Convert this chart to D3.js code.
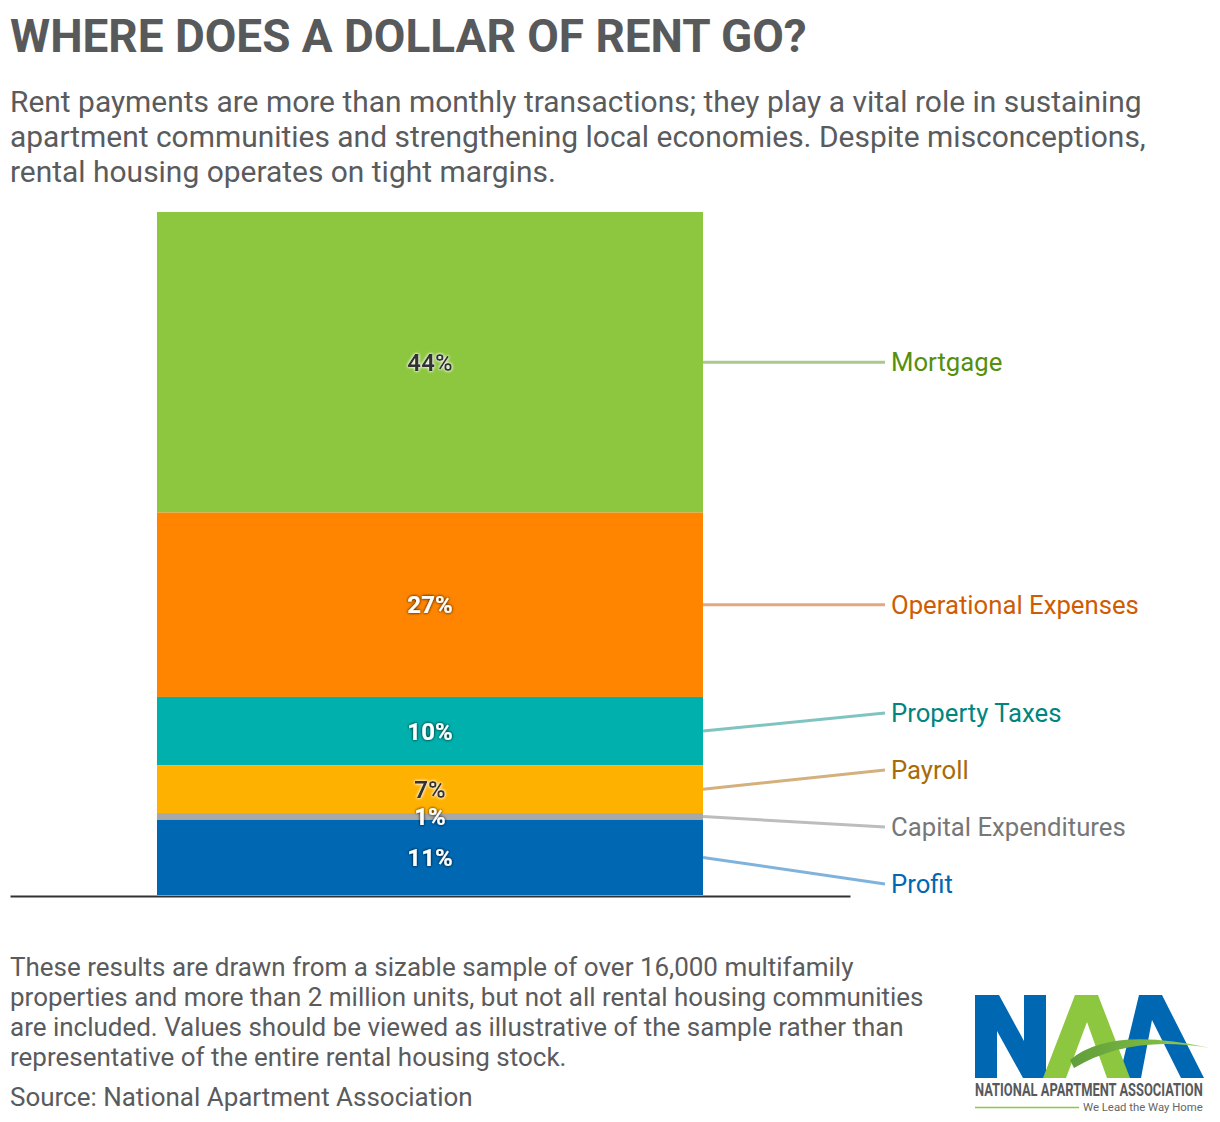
<!DOCTYPE html>
<html>
<head>
<meta charset="utf-8">
<script src="https://cdn.jsdelivr.net/npm/d3@7/dist/d3.min.js"></script>
<style>
  html, body { margin: 0; padding: 0; background: #fff; }
  svg { display: block; font-family: Roboto, "Noto Sans", sans-serif; }
</style>
</head>
<body>
<svg id="chart" width="1220" height="1122"></svg>
<script>
// ---------- data ----------
const categories = ["Mortgage", "Operational Expenses", "Property Taxes", "Payroll", "Capital Expenditures", "Profit"];
const values = [44, 27, 10, 7, 1, 11];
const valueLabels = ["44%", "27%", "10%", "7%", "1%", "11%"];
const titleText = "WHERE DOES A DOLLAR OF RENT GO?";
const subtitleLines = [
  "Rent payments are more than monthly transactions; they play a vital role in sustaining",
  "apartment communities and strengthening local economies. Despite misconceptions,",
  "rental housing operates on tight margins."
];
const noteLines = [
  "These results are drawn from a sizable sample of over 16,000 multifamily",
  "properties and more than 2 million units, but not all rental housing communities",
  "are included. Values should be viewed as illustrative of the sample rather than",
  "representative of the entire rental housing stock."
];
const sourceText = "Source: National Apartment Association";

// ---------- styles ----------
const barColors   = ["#8dc63f", "#ff8500", "#00b0ad", "#ffb100", "#a8a8a8", "#0068b3"];
const labelColors = ["#558f0c", "#cf5c00", "#00857f", "#a86b08", "#777777", "#0068b3"];
const lineColors  = ["#aac98d", "#e3a882", "#80c4c1", "#d3b07c", "#bdbdbd", "#80b3dc"];
const darkValue   = [true, false, false, true, false, false];

const svg = d3.select("#chart");

function fitText(sel, targetWidth) {
  const fs = parseFloat(sel.attr("font-size"));
  const w = sel.node().getComputedTextLength();
  const nfs = fs * targetWidth / w;
  sel.attr("font-size", nfs);
  return nfs;
}
// squeeze text horizontally into a given width using a transform
function squeeze(sel, x0, y0, targetWidth) {
  const w = sel.node().getComputedTextLength();
  sel.attr("x", 0).attr("y", 0)
     .attr("transform", `translate(${x0},${y0}) scale(${targetWidth / w},1)`);
}

// ---------- filters (halo for value labels) ----------
const defs = svg.append("defs");
function glow(id, color, opacity) {
  const f = defs.append("filter").attr("id", id).attr("x", "-30%").attr("y", "-50%").attr("width", "160%").attr("height", "200%");
  f.append("feGaussianBlur").attr("in", "SourceAlpha").attr("stdDeviation", 1.8).attr("result", "b");
  f.append("feFlood").attr("flood-color", color).attr("flood-opacity", opacity).attr("result", "c");
  f.append("feComposite").attr("in", "c").attr("in2", "b").attr("operator", "in").attr("result", "g");
  const m = f.append("feMerge");
  m.append("feMergeNode").attr("in", "g");
  m.append("feMergeNode").attr("in", "g");
  m.append("feMergeNode").attr("in", "SourceGraphic");
}
glow("haloLight", "#ffffff", 0.9);
glow("haloDark", "#000000", 0.55);

const swGrad = defs.append("linearGradient").attr("id", "swoosh").attr("x1", "0").attr("x2", "1").attr("y1", "0").attr("y2", "0");
swGrad.append("stop").attr("offset", "0").attr("stop-color", "#5f9e3a");
swGrad.append("stop").attr("offset", "0.6").attr("stop-color", "#7cb842");
swGrad.append("stop").attr("offset", "1").attr("stop-color", "#a5d36a");

// ---------- title / subtitle ----------
const title = svg.append("text").attr("x", 10).attr("y", 52)
  .attr("font-size", 42).attr("font-weight", 700).attr("fill", "#58595b")
  .text(titleText);
fitText(title, 797);

const sub = svg.append("g").attr("fill", "#5a5b5d");
const sub0 = sub.append("text").attr("x", 10).attr("y", 112).attr("font-size", 26).text(subtitleLines[0]);
const subFs = fitText(sub0, 1132);
subtitleLines.slice(1).forEach((t, i) => {
  sub.append("text").attr("x", 10).attr("y", 112 + (i + 1) * 35).attr("font-size", subFs).text(t);
});

// ---------- chart ----------
const x = d3.scaleBand().domain(["Rent"]).range([10, 850]).paddingInner(0).paddingOuter(0.2692);
const y = d3.scaleLinear().domain([0, 100]).range([895, 212]);
const color = d3.scaleOrdinal().domain(categories).range(barColors);

const row = {};
categories.forEach((c, i) => row[c] = values[i]);
const stack = d3.stack().keys(categories.slice().reverse())(([row]));
const segs = stack.map(s => ({ key: s.key, idx: categories.indexOf(s.key), y0: s[0][0], y1: s[0][1] }))
  .sort((a, b) => a.idx - b.idx);

svg.append("g").selectAll("rect").data(segs).join("rect")
  .attr("x", x("Rent"))
  .attr("width", x.bandwidth())
  .attr("y", d => y(d.y1))
  .attr("height", d => y(d.y0) - y(d.y1))
  .attr("fill", d => color(d.key));

// axis baseline
const axis = svg.append("g").attr("transform", "translate(0,896)")
  .call(d3.axisBottom(x).tickSize(0).tickSizeOuter(0).tickFormat(""));
axis.select(".domain").attr("stroke", "#333").attr("stroke-width", 2);

// value labels
svg.append("g").selectAll("text").data(segs).join("text")
  .attr("x", d => x("Rent") + x.bandwidth() / 2)
  .attr("y", d => y((d.y0 + d.y1) / 2))
  .attr("dy", "0.36em")
  .attr("text-anchor", "middle")
  .attr("font-size", 24).attr("font-weight", 700)
  .attr("fill", d => darkValue[d.idx] ? "#333333" : "#ffffff")
  .attr("filter", d => darkValue[d.idx] ? "url(#haloLight)" : "url(#haloDark)")
  .text(d => valueLabels[d.idx]);

// label layout: de-overlap with clusters
const gap = 57;
const ideal = segs.map(d => y((d.y0 + d.y1) / 2));
let clusters = ideal.map((v, i) => ({ items: [i] }));
function place(c) {
  const mean = d3.mean(c.items, i => ideal[i]);
  c.top = mean - (c.items.length - 1) / 2 * gap;
  c.bottom = c.top + (c.items.length - 1) * gap;
}
clusters.forEach(place);
let changed = true;
while (changed) {
  changed = false;
  for (let k = 0; k < clusters.length - 1; k++) {
    if (clusters[k].bottom + gap > clusters[k + 1].top) {
      clusters[k].items = clusters[k].items.concat(clusters[k + 1].items);
      clusters.splice(k + 1, 1);
      place(clusters[k]);
      changed = true;
      break;
    }
  }
}
const labelY = [];
clusters.forEach(c => c.items.forEach((i, j) => labelY[i] = c.top + j * gap));

const barRight = x("Rent") + x.bandwidth();
const lineEnd = 885, labelX = 891;
svg.append("g").selectAll("line").data(segs).join("line")
  .attr("x1", barRight).attr("y1", (d, i) => ideal[i])
  .attr("x2", lineEnd).attr("y2", (d, i) => labelY[i])
  .attr("stroke", d => lineColors[d.idx]).attr("stroke-width", 3);

const labs = svg.append("g").selectAll("text").data(segs).join("text")
  .attr("x", labelX).attr("y", (d, i) => labelY[i]).attr("dy", "0.35em")
  .attr("font-size", 23)
  .attr("fill", d => labelColors[d.idx])
  .text(d => d.key);
const opLab = labs.filter(d => d.key === "Operational Expenses");
const labFs = fitText(opLab, 248);
labs.attr("font-size", labFs);

// ---------- notes ----------
const notes = svg.append("g").attr("fill", "#5a5b5d");
const n0 = notes.append("text").attr("x", 10).attr("y", 976).attr("font-size", 22).text(noteLines[0]);
const noteFs = fitText(n0, 844);
noteLines.slice(1).forEach((t, i) => {
  notes.append("text").attr("x", 10).attr("y", 976 + (i + 1) * 30).attr("font-size", noteFs).text(t);
});
notes.append("text").attr("x", 10).attr("y", 1106).attr("font-size", noteFs).text(sourceText);

// ---------- logo ----------
const logo = svg.append("g");
logo.append("path").attr("fill", "#0068b3")
  .attr("d", "M975,1078 L975,995 L999,995 L1024,1041 L1024,995 L1046,995 L1046,1078 L1023,1078 L997,1031 L997,1078 Z");
logo.append("path").attr("fill", "#0068b3")
  .attr("d", "M1119,1078 L1139,995 L1162,995 L1204,1078 L1181,1078 L1152,1020 L1141,1078 Z");
logo.append("path").attr("fill", "#8dc63f")
  .attr("d", "M1043,1078 L1075,995 L1098,995 L1130,1078 L1107,1078 L1087,1022 L1066,1078 Z");
logo.append("path").attr("fill", "url(#swoosh)")
  .attr("d", "M1070,1060 Q1110,1026 1210,1048 Q1130,1034 1074,1068 Z");
const logoName = logo.append("text")
  .attr("font-size", 18).attr("font-weight", 700).attr("fill", "#58595b")
  .text("NATIONAL APARTMENT ASSOCIATION");
squeeze(logoName, 975, 1096, 228);
logo.append("line").attr("x1", 975).attr("x2", 1079).attr("y1", 1107.5).attr("y2", 1107.5)
  .attr("stroke", "#8dc63f").attr("stroke-width", 1.5);
const tagline = logo.append("text")
  .attr("font-size", 11).attr("fill", "#666")
  .text("We Lead the Way Home");
squeeze(tagline, 1083, 1111, 120);
</script>
</body>
</html>
